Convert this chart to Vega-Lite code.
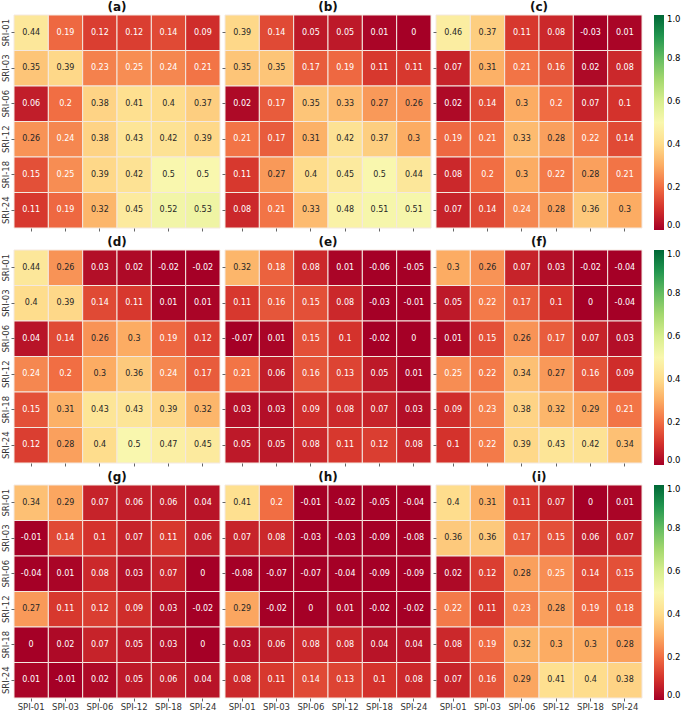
{
"$schema": "https://vega.github.io/schema/vega-lite/v6.json",
"background": "white",
"padding": {"left": 0, "top": 0, "right": 0, "bottom": 0},
"spacing": 3,
"config": {
  "view": {"stroke": null},
  "font": "DejaVu Sans",
  "axis": {"domain": false, "tickSize": 3, "tickColor": "#666", "labelFontSize": 8.5, "labelColor": "#333", "title": null, "labelPadding": 1},
  "title": {"fontSize": 12, "fontWeight": "bold", "offset": 1, "color": "#111"},
  "concat": {"spacing": 0}
},
"datasets": {
"cells": [
{"panel":"a","sri":"SRI-01","spi":"SPI-01","value":0.44},{"panel":"a","sri":"SRI-01","spi":"SPI-03","value":0.19},{"panel":"a","sri":"SRI-01","spi":"SPI-06","value":0.12},{"panel":"a","sri":"SRI-01","spi":"SPI-12","value":0.12},{"panel":"a","sri":"SRI-01","spi":"SPI-18","value":0.14},{"panel":"a","sri":"SRI-01","spi":"SPI-24","value":0.09},
{"panel":"a","sri":"SRI-03","spi":"SPI-01","value":0.35},{"panel":"a","sri":"SRI-03","spi":"SPI-03","value":0.39},{"panel":"a","sri":"SRI-03","spi":"SPI-06","value":0.23},{"panel":"a","sri":"SRI-03","spi":"SPI-12","value":0.25},{"panel":"a","sri":"SRI-03","spi":"SPI-18","value":0.24},{"panel":"a","sri":"SRI-03","spi":"SPI-24","value":0.21},
{"panel":"a","sri":"SRI-06","spi":"SPI-01","value":0.06},{"panel":"a","sri":"SRI-06","spi":"SPI-03","value":0.2},{"panel":"a","sri":"SRI-06","spi":"SPI-06","value":0.38},{"panel":"a","sri":"SRI-06","spi":"SPI-12","value":0.41},{"panel":"a","sri":"SRI-06","spi":"SPI-18","value":0.4},{"panel":"a","sri":"SRI-06","spi":"SPI-24","value":0.37},
{"panel":"a","sri":"SRI-12","spi":"SPI-01","value":0.26},{"panel":"a","sri":"SRI-12","spi":"SPI-03","value":0.24},{"panel":"a","sri":"SRI-12","spi":"SPI-06","value":0.38},{"panel":"a","sri":"SRI-12","spi":"SPI-12","value":0.43},{"panel":"a","sri":"SRI-12","spi":"SPI-18","value":0.42},{"panel":"a","sri":"SRI-12","spi":"SPI-24","value":0.39},
{"panel":"a","sri":"SRI-18","spi":"SPI-01","value":0.15},{"panel":"a","sri":"SRI-18","spi":"SPI-03","value":0.25},{"panel":"a","sri":"SRI-18","spi":"SPI-06","value":0.39},{"panel":"a","sri":"SRI-18","spi":"SPI-12","value":0.42},{"panel":"a","sri":"SRI-18","spi":"SPI-18","value":0.5},{"panel":"a","sri":"SRI-18","spi":"SPI-24","value":0.5},
{"panel":"a","sri":"SRI-24","spi":"SPI-01","value":0.11},{"panel":"a","sri":"SRI-24","spi":"SPI-03","value":0.19},{"panel":"a","sri":"SRI-24","spi":"SPI-06","value":0.32},{"panel":"a","sri":"SRI-24","spi":"SPI-12","value":0.45},{"panel":"a","sri":"SRI-24","spi":"SPI-18","value":0.52},{"panel":"a","sri":"SRI-24","spi":"SPI-24","value":0.53},

{"panel":"b","sri":"SRI-01","spi":"SPI-01","value":0.39},{"panel":"b","sri":"SRI-01","spi":"SPI-03","value":0.14},{"panel":"b","sri":"SRI-01","spi":"SPI-06","value":0.05},{"panel":"b","sri":"SRI-01","spi":"SPI-12","value":0.05},{"panel":"b","sri":"SRI-01","spi":"SPI-18","value":0.01},{"panel":"b","sri":"SRI-01","spi":"SPI-24","value":0},
{"panel":"b","sri":"SRI-03","spi":"SPI-01","value":0.35},{"panel":"b","sri":"SRI-03","spi":"SPI-03","value":0.35},{"panel":"b","sri":"SRI-03","spi":"SPI-06","value":0.17},{"panel":"b","sri":"SRI-03","spi":"SPI-12","value":0.19},{"panel":"b","sri":"SRI-03","spi":"SPI-18","value":0.11},{"panel":"b","sri":"SRI-03","spi":"SPI-24","value":0.11},
{"panel":"b","sri":"SRI-06","spi":"SPI-01","value":0.02},{"panel":"b","sri":"SRI-06","spi":"SPI-03","value":0.17},{"panel":"b","sri":"SRI-06","spi":"SPI-06","value":0.35},{"panel":"b","sri":"SRI-06","spi":"SPI-12","value":0.33},{"panel":"b","sri":"SRI-06","spi":"SPI-18","value":0.27},{"panel":"b","sri":"SRI-06","spi":"SPI-24","value":0.26},
{"panel":"b","sri":"SRI-12","spi":"SPI-01","value":0.21},{"panel":"b","sri":"SRI-12","spi":"SPI-03","value":0.17},{"panel":"b","sri":"SRI-12","spi":"SPI-06","value":0.31},{"panel":"b","sri":"SRI-12","spi":"SPI-12","value":0.42},{"panel":"b","sri":"SRI-12","spi":"SPI-18","value":0.37},{"panel":"b","sri":"SRI-12","spi":"SPI-24","value":0.3},
{"panel":"b","sri":"SRI-18","spi":"SPI-01","value":0.11},{"panel":"b","sri":"SRI-18","spi":"SPI-03","value":0.27},{"panel":"b","sri":"SRI-18","spi":"SPI-06","value":0.4},{"panel":"b","sri":"SRI-18","spi":"SPI-12","value":0.45},{"panel":"b","sri":"SRI-18","spi":"SPI-18","value":0.5},{"panel":"b","sri":"SRI-18","spi":"SPI-24","value":0.44},
{"panel":"b","sri":"SRI-24","spi":"SPI-01","value":0.08},{"panel":"b","sri":"SRI-24","spi":"SPI-03","value":0.21},{"panel":"b","sri":"SRI-24","spi":"SPI-06","value":0.33},{"panel":"b","sri":"SRI-24","spi":"SPI-12","value":0.48},{"panel":"b","sri":"SRI-24","spi":"SPI-18","value":0.51},{"panel":"b","sri":"SRI-24","spi":"SPI-24","value":0.51},

{"panel":"c","sri":"SRI-01","spi":"SPI-01","value":0.46},{"panel":"c","sri":"SRI-01","spi":"SPI-03","value":0.37},{"panel":"c","sri":"SRI-01","spi":"SPI-06","value":0.11},{"panel":"c","sri":"SRI-01","spi":"SPI-12","value":0.08},{"panel":"c","sri":"SRI-01","spi":"SPI-18","value":-0.03},{"panel":"c","sri":"SRI-01","spi":"SPI-24","value":0.01},
{"panel":"c","sri":"SRI-03","spi":"SPI-01","value":0.07},{"panel":"c","sri":"SRI-03","spi":"SPI-03","value":0.31},{"panel":"c","sri":"SRI-03","spi":"SPI-06","value":0.21},{"panel":"c","sri":"SRI-03","spi":"SPI-12","value":0.16},{"panel":"c","sri":"SRI-03","spi":"SPI-18","value":0.02},{"panel":"c","sri":"SRI-03","spi":"SPI-24","value":0.08},
{"panel":"c","sri":"SRI-06","spi":"SPI-01","value":0.02},{"panel":"c","sri":"SRI-06","spi":"SPI-03","value":0.14},{"panel":"c","sri":"SRI-06","spi":"SPI-06","value":0.3},{"panel":"c","sri":"SRI-06","spi":"SPI-12","value":0.2},{"panel":"c","sri":"SRI-06","spi":"SPI-18","value":0.07},{"panel":"c","sri":"SRI-06","spi":"SPI-24","value":0.1},
{"panel":"c","sri":"SRI-12","spi":"SPI-01","value":0.19},{"panel":"c","sri":"SRI-12","spi":"SPI-03","value":0.21},{"panel":"c","sri":"SRI-12","spi":"SPI-06","value":0.33},{"panel":"c","sri":"SRI-12","spi":"SPI-12","value":0.28},{"panel":"c","sri":"SRI-12","spi":"SPI-18","value":0.22},{"panel":"c","sri":"SRI-12","spi":"SPI-24","value":0.14},
{"panel":"c","sri":"SRI-18","spi":"SPI-01","value":0.08},{"panel":"c","sri":"SRI-18","spi":"SPI-03","value":0.2},{"panel":"c","sri":"SRI-18","spi":"SPI-06","value":0.3},{"panel":"c","sri":"SRI-18","spi":"SPI-12","value":0.22},{"panel":"c","sri":"SRI-18","spi":"SPI-18","value":0.28},{"panel":"c","sri":"SRI-18","spi":"SPI-24","value":0.21},
{"panel":"c","sri":"SRI-24","spi":"SPI-01","value":0.07},{"panel":"c","sri":"SRI-24","spi":"SPI-03","value":0.14},{"panel":"c","sri":"SRI-24","spi":"SPI-06","value":0.24},{"panel":"c","sri":"SRI-24","spi":"SPI-12","value":0.28},{"panel":"c","sri":"SRI-24","spi":"SPI-18","value":0.36},{"panel":"c","sri":"SRI-24","spi":"SPI-24","value":0.3},

{"panel":"d","sri":"SRI-01","spi":"SPI-01","value":0.44},{"panel":"d","sri":"SRI-01","spi":"SPI-03","value":0.26},{"panel":"d","sri":"SRI-01","spi":"SPI-06","value":0.03},{"panel":"d","sri":"SRI-01","spi":"SPI-12","value":0.02},{"panel":"d","sri":"SRI-01","spi":"SPI-18","value":-0.02},{"panel":"d","sri":"SRI-01","spi":"SPI-24","value":-0.02},
{"panel":"d","sri":"SRI-03","spi":"SPI-01","value":0.4},{"panel":"d","sri":"SRI-03","spi":"SPI-03","value":0.39},{"panel":"d","sri":"SRI-03","spi":"SPI-06","value":0.14},{"panel":"d","sri":"SRI-03","spi":"SPI-12","value":0.11},{"panel":"d","sri":"SRI-03","spi":"SPI-18","value":0.01},{"panel":"d","sri":"SRI-03","spi":"SPI-24","value":0.01},
{"panel":"d","sri":"SRI-06","spi":"SPI-01","value":0.04},{"panel":"d","sri":"SRI-06","spi":"SPI-03","value":0.14},{"panel":"d","sri":"SRI-06","spi":"SPI-06","value":0.26},{"panel":"d","sri":"SRI-06","spi":"SPI-12","value":0.3},{"panel":"d","sri":"SRI-06","spi":"SPI-18","value":0.19},{"panel":"d","sri":"SRI-06","spi":"SPI-24","value":0.12},
{"panel":"d","sri":"SRI-12","spi":"SPI-01","value":0.24},{"panel":"d","sri":"SRI-12","spi":"SPI-03","value":0.2},{"panel":"d","sri":"SRI-12","spi":"SPI-06","value":0.3},{"panel":"d","sri":"SRI-12","spi":"SPI-12","value":0.36},{"panel":"d","sri":"SRI-12","spi":"SPI-18","value":0.24},{"panel":"d","sri":"SRI-12","spi":"SPI-24","value":0.17},
{"panel":"d","sri":"SRI-18","spi":"SPI-01","value":0.15},{"panel":"d","sri":"SRI-18","spi":"SPI-03","value":0.31},{"panel":"d","sri":"SRI-18","spi":"SPI-06","value":0.43},{"panel":"d","sri":"SRI-18","spi":"SPI-12","value":0.43},{"panel":"d","sri":"SRI-18","spi":"SPI-18","value":0.39},{"panel":"d","sri":"SRI-18","spi":"SPI-24","value":0.32},
{"panel":"d","sri":"SRI-24","spi":"SPI-01","value":0.12},{"panel":"d","sri":"SRI-24","spi":"SPI-03","value":0.28},{"panel":"d","sri":"SRI-24","spi":"SPI-06","value":0.4},{"panel":"d","sri":"SRI-24","spi":"SPI-12","value":0.5},{"panel":"d","sri":"SRI-24","spi":"SPI-18","value":0.47},{"panel":"d","sri":"SRI-24","spi":"SPI-24","value":0.45},

{"panel":"e","sri":"SRI-01","spi":"SPI-01","value":0.32},{"panel":"e","sri":"SRI-01","spi":"SPI-03","value":0.18},{"panel":"e","sri":"SRI-01","spi":"SPI-06","value":0.08},{"panel":"e","sri":"SRI-01","spi":"SPI-12","value":0.01},{"panel":"e","sri":"SRI-01","spi":"SPI-18","value":-0.06},{"panel":"e","sri":"SRI-01","spi":"SPI-24","value":-0.05},
{"panel":"e","sri":"SRI-03","spi":"SPI-01","value":0.11},{"panel":"e","sri":"SRI-03","spi":"SPI-03","value":0.16},{"panel":"e","sri":"SRI-03","spi":"SPI-06","value":0.15},{"panel":"e","sri":"SRI-03","spi":"SPI-12","value":0.08},{"panel":"e","sri":"SRI-03","spi":"SPI-18","value":-0.03},{"panel":"e","sri":"SRI-03","spi":"SPI-24","value":-0.01},
{"panel":"e","sri":"SRI-06","spi":"SPI-01","value":-0.07},{"panel":"e","sri":"SRI-06","spi":"SPI-03","value":0.01},{"panel":"e","sri":"SRI-06","spi":"SPI-06","value":0.15},{"panel":"e","sri":"SRI-06","spi":"SPI-12","value":0.1},{"panel":"e","sri":"SRI-06","spi":"SPI-18","value":-0.02},{"panel":"e","sri":"SRI-06","spi":"SPI-24","value":0},
{"panel":"e","sri":"SRI-12","spi":"SPI-01","value":0.21},{"panel":"e","sri":"SRI-12","spi":"SPI-03","value":0.06},{"panel":"e","sri":"SRI-12","spi":"SPI-06","value":0.16},{"panel":"e","sri":"SRI-12","spi":"SPI-12","value":0.13},{"panel":"e","sri":"SRI-12","spi":"SPI-18","value":0.05},{"panel":"e","sri":"SRI-12","spi":"SPI-24","value":0.01},
{"panel":"e","sri":"SRI-18","spi":"SPI-01","value":0.03},{"panel":"e","sri":"SRI-18","spi":"SPI-03","value":0.03},{"panel":"e","sri":"SRI-18","spi":"SPI-06","value":0.09},{"panel":"e","sri":"SRI-18","spi":"SPI-12","value":0.08},{"panel":"e","sri":"SRI-18","spi":"SPI-18","value":0.07},{"panel":"e","sri":"SRI-18","spi":"SPI-24","value":0.03},
{"panel":"e","sri":"SRI-24","spi":"SPI-01","value":0.05},{"panel":"e","sri":"SRI-24","spi":"SPI-03","value":0.05},{"panel":"e","sri":"SRI-24","spi":"SPI-06","value":0.08},{"panel":"e","sri":"SRI-24","spi":"SPI-12","value":0.11},{"panel":"e","sri":"SRI-24","spi":"SPI-18","value":0.12},{"panel":"e","sri":"SRI-24","spi":"SPI-24","value":0.08},

{"panel":"f","sri":"SRI-01","spi":"SPI-01","value":0.3},{"panel":"f","sri":"SRI-01","spi":"SPI-03","value":0.26},{"panel":"f","sri":"SRI-01","spi":"SPI-06","value":0.07},{"panel":"f","sri":"SRI-01","spi":"SPI-12","value":0.03},{"panel":"f","sri":"SRI-01","spi":"SPI-18","value":-0.02},{"panel":"f","sri":"SRI-01","spi":"SPI-24","value":-0.04},
{"panel":"f","sri":"SRI-03","spi":"SPI-01","value":0.05},{"panel":"f","sri":"SRI-03","spi":"SPI-03","value":0.22},{"panel":"f","sri":"SRI-03","spi":"SPI-06","value":0.17},{"panel":"f","sri":"SRI-03","spi":"SPI-12","value":0.1},{"panel":"f","sri":"SRI-03","spi":"SPI-18","value":0},{"panel":"f","sri":"SRI-03","spi":"SPI-24","value":-0.04},
{"panel":"f","sri":"SRI-06","spi":"SPI-01","value":0.01},{"panel":"f","sri":"SRI-06","spi":"SPI-03","value":0.15},{"panel":"f","sri":"SRI-06","spi":"SPI-06","value":0.26},{"panel":"f","sri":"SRI-06","spi":"SPI-12","value":0.17},{"panel":"f","sri":"SRI-06","spi":"SPI-18","value":0.07},{"panel":"f","sri":"SRI-06","spi":"SPI-24","value":0.03},
{"panel":"f","sri":"SRI-12","spi":"SPI-01","value":0.25},{"panel":"f","sri":"SRI-12","spi":"SPI-03","value":0.22},{"panel":"f","sri":"SRI-12","spi":"SPI-06","value":0.34},{"panel":"f","sri":"SRI-12","spi":"SPI-12","value":0.27},{"panel":"f","sri":"SRI-12","spi":"SPI-18","value":0.16},{"panel":"f","sri":"SRI-12","spi":"SPI-24","value":0.09},
{"panel":"f","sri":"SRI-18","spi":"SPI-01","value":0.09},{"panel":"f","sri":"SRI-18","spi":"SPI-03","value":0.23},{"panel":"f","sri":"SRI-18","spi":"SPI-06","value":0.38},{"panel":"f","sri":"SRI-18","spi":"SPI-12","value":0.32},{"panel":"f","sri":"SRI-18","spi":"SPI-18","value":0.29},{"panel":"f","sri":"SRI-18","spi":"SPI-24","value":0.21},
{"panel":"f","sri":"SRI-24","spi":"SPI-01","value":0.1},{"panel":"f","sri":"SRI-24","spi":"SPI-03","value":0.22},{"panel":"f","sri":"SRI-24","spi":"SPI-06","value":0.39},{"panel":"f","sri":"SRI-24","spi":"SPI-12","value":0.43},{"panel":"f","sri":"SRI-24","spi":"SPI-18","value":0.42},{"panel":"f","sri":"SRI-24","spi":"SPI-24","value":0.34},

{"panel":"g","sri":"SRI-01","spi":"SPI-01","value":0.34},{"panel":"g","sri":"SRI-01","spi":"SPI-03","value":0.29},{"panel":"g","sri":"SRI-01","spi":"SPI-06","value":0.07},{"panel":"g","sri":"SRI-01","spi":"SPI-12","value":0.06},{"panel":"g","sri":"SRI-01","spi":"SPI-18","value":0.06},{"panel":"g","sri":"SRI-01","spi":"SPI-24","value":0.04},
{"panel":"g","sri":"SRI-03","spi":"SPI-01","value":-0.01},{"panel":"g","sri":"SRI-03","spi":"SPI-03","value":0.14},{"panel":"g","sri":"SRI-03","spi":"SPI-06","value":0.1},{"panel":"g","sri":"SRI-03","spi":"SPI-12","value":0.07},{"panel":"g","sri":"SRI-03","spi":"SPI-18","value":0.11},{"panel":"g","sri":"SRI-03","spi":"SPI-24","value":0.06},
{"panel":"g","sri":"SRI-06","spi":"SPI-01","value":-0.04},{"panel":"g","sri":"SRI-06","spi":"SPI-03","value":0.01},{"panel":"g","sri":"SRI-06","spi":"SPI-06","value":0.08},{"panel":"g","sri":"SRI-06","spi":"SPI-12","value":0.03},{"panel":"g","sri":"SRI-06","spi":"SPI-18","value":0.07},{"panel":"g","sri":"SRI-06","spi":"SPI-24","value":0},
{"panel":"g","sri":"SRI-12","spi":"SPI-01","value":0.27},{"panel":"g","sri":"SRI-12","spi":"SPI-03","value":0.11},{"panel":"g","sri":"SRI-12","spi":"SPI-06","value":0.12},{"panel":"g","sri":"SRI-12","spi":"SPI-12","value":0.09},{"panel":"g","sri":"SRI-12","spi":"SPI-18","value":0.03},{"panel":"g","sri":"SRI-12","spi":"SPI-24","value":-0.02},
{"panel":"g","sri":"SRI-18","spi":"SPI-01","value":0},{"panel":"g","sri":"SRI-18","spi":"SPI-03","value":0.02},{"panel":"g","sri":"SRI-18","spi":"SPI-06","value":0.07},{"panel":"g","sri":"SRI-18","spi":"SPI-12","value":0.05},{"panel":"g","sri":"SRI-18","spi":"SPI-18","value":0.03},{"panel":"g","sri":"SRI-18","spi":"SPI-24","value":0},
{"panel":"g","sri":"SRI-24","spi":"SPI-01","value":0.01},{"panel":"g","sri":"SRI-24","spi":"SPI-03","value":-0.01},{"panel":"g","sri":"SRI-24","spi":"SPI-06","value":0.02},{"panel":"g","sri":"SRI-24","spi":"SPI-12","value":0.05},{"panel":"g","sri":"SRI-24","spi":"SPI-18","value":0.06},{"panel":"g","sri":"SRI-24","spi":"SPI-24","value":0.04},

{"panel":"h","sri":"SRI-01","spi":"SPI-01","value":0.41},{"panel":"h","sri":"SRI-01","spi":"SPI-03","value":0.2},{"panel":"h","sri":"SRI-01","spi":"SPI-06","value":-0.01},{"panel":"h","sri":"SRI-01","spi":"SPI-12","value":-0.02},{"panel":"h","sri":"SRI-01","spi":"SPI-18","value":-0.05},{"panel":"h","sri":"SRI-01","spi":"SPI-24","value":-0.04},
{"panel":"h","sri":"SRI-03","spi":"SPI-01","value":0.07},{"panel":"h","sri":"SRI-03","spi":"SPI-03","value":0.08},{"panel":"h","sri":"SRI-03","spi":"SPI-06","value":-0.03},{"panel":"h","sri":"SRI-03","spi":"SPI-12","value":-0.03},{"panel":"h","sri":"SRI-03","spi":"SPI-18","value":-0.09},{"panel":"h","sri":"SRI-03","spi":"SPI-24","value":-0.08},
{"panel":"h","sri":"SRI-06","spi":"SPI-01","value":-0.08},{"panel":"h","sri":"SRI-06","spi":"SPI-03","value":-0.07},{"panel":"h","sri":"SRI-06","spi":"SPI-06","value":-0.07},{"panel":"h","sri":"SRI-06","spi":"SPI-12","value":-0.04},{"panel":"h","sri":"SRI-06","spi":"SPI-18","value":-0.09},{"panel":"h","sri":"SRI-06","spi":"SPI-24","value":-0.09},
{"panel":"h","sri":"SRI-12","spi":"SPI-01","value":0.29},{"panel":"h","sri":"SRI-12","spi":"SPI-03","value":-0.02},{"panel":"h","sri":"SRI-12","spi":"SPI-06","value":0},{"panel":"h","sri":"SRI-12","spi":"SPI-12","value":0.01},{"panel":"h","sri":"SRI-12","spi":"SPI-18","value":-0.02},{"panel":"h","sri":"SRI-12","spi":"SPI-24","value":-0.02},
{"panel":"h","sri":"SRI-18","spi":"SPI-01","value":0.03},{"panel":"h","sri":"SRI-18","spi":"SPI-03","value":0.06},{"panel":"h","sri":"SRI-18","spi":"SPI-06","value":0.08},{"panel":"h","sri":"SRI-18","spi":"SPI-12","value":0.08},{"panel":"h","sri":"SRI-18","spi":"SPI-18","value":0.04},{"panel":"h","sri":"SRI-18","spi":"SPI-24","value":0.04},
{"panel":"h","sri":"SRI-24","spi":"SPI-01","value":0.08},{"panel":"h","sri":"SRI-24","spi":"SPI-03","value":0.11},{"panel":"h","sri":"SRI-24","spi":"SPI-06","value":0.14},{"panel":"h","sri":"SRI-24","spi":"SPI-12","value":0.13},{"panel":"h","sri":"SRI-24","spi":"SPI-18","value":0.1},{"panel":"h","sri":"SRI-24","spi":"SPI-24","value":0.08},

{"panel":"i","sri":"SRI-01","spi":"SPI-01","value":0.4},{"panel":"i","sri":"SRI-01","spi":"SPI-03","value":0.31},{"panel":"i","sri":"SRI-01","spi":"SPI-06","value":0.11},{"panel":"i","sri":"SRI-01","spi":"SPI-12","value":0.07},{"panel":"i","sri":"SRI-01","spi":"SPI-18","value":0},{"panel":"i","sri":"SRI-01","spi":"SPI-24","value":0.01},
{"panel":"i","sri":"SRI-03","spi":"SPI-01","value":0.36},{"panel":"i","sri":"SRI-03","spi":"SPI-03","value":0.36},{"panel":"i","sri":"SRI-03","spi":"SPI-06","value":0.17},{"panel":"i","sri":"SRI-03","spi":"SPI-12","value":0.15},{"panel":"i","sri":"SRI-03","spi":"SPI-18","value":0.06},{"panel":"i","sri":"SRI-03","spi":"SPI-24","value":0.07},
{"panel":"i","sri":"SRI-06","spi":"SPI-01","value":0.02},{"panel":"i","sri":"SRI-06","spi":"SPI-03","value":0.12},{"panel":"i","sri":"SRI-06","spi":"SPI-06","value":0.28},{"panel":"i","sri":"SRI-06","spi":"SPI-12","value":0.25},{"panel":"i","sri":"SRI-06","spi":"SPI-18","value":0.14},{"panel":"i","sri":"SRI-06","spi":"SPI-24","value":0.15},
{"panel":"i","sri":"SRI-12","spi":"SPI-01","value":0.22},{"panel":"i","sri":"SRI-12","spi":"SPI-03","value":0.11},{"panel":"i","sri":"SRI-12","spi":"SPI-06","value":0.23},{"panel":"i","sri":"SRI-12","spi":"SPI-12","value":0.28},{"panel":"i","sri":"SRI-12","spi":"SPI-18","value":0.19},{"panel":"i","sri":"SRI-12","spi":"SPI-24","value":0.18},
{"panel":"i","sri":"SRI-18","spi":"SPI-01","value":0.08},{"panel":"i","sri":"SRI-18","spi":"SPI-03","value":0.19},{"panel":"i","sri":"SRI-18","spi":"SPI-06","value":0.32},{"panel":"i","sri":"SRI-18","spi":"SPI-12","value":0.3},{"panel":"i","sri":"SRI-18","spi":"SPI-18","value":0.3},{"panel":"i","sri":"SRI-18","spi":"SPI-24","value":0.28},
{"panel":"i","sri":"SRI-24","spi":"SPI-01","value":0.07},{"panel":"i","sri":"SRI-24","spi":"SPI-03","value":0.16},{"panel":"i","sri":"SRI-24","spi":"SPI-06","value":0.29},{"panel":"i","sri":"SRI-24","spi":"SPI-12","value":0.41},{"panel":"i","sri":"SRI-24","spi":"SPI-18","value":0.4},{"panel":"i","sri":"SRI-24","spi":"SPI-24","value":0.38}
]
},
"data": {"name": "cells"},
"vconcat": [
 {"hconcat": [
  {"title": "(a)", "width": 206, "height": 213, "transform": [{"filter": "datum.panel == 'a'"}],
   "encoding": {"x": {"field": "spi", "type": "ordinal", "axis": {"labels": false}}, "y": {"field": "sri", "type": "ordinal", "axis": {"labelAngle": -90, "labelAlign": "center", "labelBaseline": "bottom"}}},
   "layer": [
    {"mark": {"type": "rect", "stroke": "#f4e8e0", "strokeWidth": 1}, "encoding": {"color": {"field": "value", "type": "quantitative", "scale": {"scheme": "redyellowgreen", "domain": [0, 1], "clamp": true}, "legend": null}}},
    {"mark": {"type": "text", "fontSize": 8}, "encoding": {"text": {"field": "value", "type": "nominal"}, "color": {"condition": {"test": "datum.value < 0.26", "value": "white"}, "value": "#262626"}}}
   ]},
  {"title": "(b)", "width": 206, "height": 213, "transform": [{"filter": "datum.panel == 'b'"}],
   "encoding": {"x": {"field": "spi", "type": "ordinal", "axis": {"labels": false}}, "y": {"field": "sri", "type": "ordinal", "axis": {"labels": false}}},
   "layer": [
    {"mark": {"type": "rect", "stroke": "#f4e8e0", "strokeWidth": 1}, "encoding": {"color": {"field": "value", "type": "quantitative", "scale": {"scheme": "redyellowgreen", "domain": [0, 1], "clamp": true}, "legend": null}}},
    {"mark": {"type": "text", "fontSize": 8}, "encoding": {"text": {"field": "value", "type": "nominal"}, "color": {"condition": {"test": "datum.value < 0.26", "value": "white"}, "value": "#262626"}}}
   ]},
  {"title": "(c)", "width": 206, "height": 213, "transform": [{"filter": "datum.panel == 'c'"}],
   "encoding": {"x": {"field": "spi", "type": "ordinal", "axis": {"labels": false}}, "y": {"field": "sri", "type": "ordinal", "axis": {"labels": false}}},
   "layer": [
    {"mark": {"type": "rect", "stroke": "#f4e8e0", "strokeWidth": 1}, "encoding": {"color": {"field": "value", "type": "quantitative", "scale": {"scheme": "redyellowgreen", "domain": [0, 1], "clamp": true}, "legend": {"title": null, "gradientLength": 215, "gradientThickness": 10, "values": [0, 0.2, 0.4, 0.6, 0.8, 1], "format": ".1f", "labelFontSize": 8.5, "offset": 12, "labelOffset": 3}}}},
    {"mark": {"type": "text", "fontSize": 8}, "encoding": {"text": {"field": "value", "type": "nominal"}, "color": {"condition": {"test": "datum.value < 0.26", "value": "white"}, "value": "#262626"}}}
   ]}
 ], "resolve": {"scale": {"color": "independent"}}},
 {"hconcat": [
  {"title": "(d)", "width": 206, "height": 213, "transform": [{"filter": "datum.panel == 'd'"}],
   "encoding": {"x": {"field": "spi", "type": "ordinal", "axis": {"labels": false}}, "y": {"field": "sri", "type": "ordinal", "axis": {"labelAngle": -90, "labelAlign": "center", "labelBaseline": "bottom"}}},
   "layer": [
    {"mark": {"type": "rect", "stroke": "#f4e8e0", "strokeWidth": 1}, "encoding": {"color": {"field": "value", "type": "quantitative", "scale": {"scheme": "redyellowgreen", "domain": [0, 1], "clamp": true}, "legend": null}}},
    {"mark": {"type": "text", "fontSize": 8}, "encoding": {"text": {"field": "value", "type": "nominal"}, "color": {"condition": {"test": "datum.value < 0.26", "value": "white"}, "value": "#262626"}}}
   ]},
  {"title": "(e)", "width": 206, "height": 213, "transform": [{"filter": "datum.panel == 'e'"}],
   "encoding": {"x": {"field": "spi", "type": "ordinal", "axis": {"labels": false}}, "y": {"field": "sri", "type": "ordinal", "axis": {"labels": false}}},
   "layer": [
    {"mark": {"type": "rect", "stroke": "#f4e8e0", "strokeWidth": 1}, "encoding": {"color": {"field": "value", "type": "quantitative", "scale": {"scheme": "redyellowgreen", "domain": [0, 1], "clamp": true}, "legend": null}}},
    {"mark": {"type": "text", "fontSize": 8}, "encoding": {"text": {"field": "value", "type": "nominal"}, "color": {"condition": {"test": "datum.value < 0.26", "value": "white"}, "value": "#262626"}}}
   ]},
  {"title": "(f)", "width": 206, "height": 213, "transform": [{"filter": "datum.panel == 'f'"}],
   "encoding": {"x": {"field": "spi", "type": "ordinal", "axis": {"labels": false}}, "y": {"field": "sri", "type": "ordinal", "axis": {"labels": false}}},
   "layer": [
    {"mark": {"type": "rect", "stroke": "#f4e8e0", "strokeWidth": 1}, "encoding": {"color": {"field": "value", "type": "quantitative", "scale": {"scheme": "redyellowgreen", "domain": [0, 1], "clamp": true}, "legend": {"title": null, "gradientLength": 215, "gradientThickness": 10, "values": [0, 0.2, 0.4, 0.6, 0.8, 1], "format": ".1f", "labelFontSize": 8.5, "offset": 12, "labelOffset": 3}}}},
    {"mark": {"type": "text", "fontSize": 8}, "encoding": {"text": {"field": "value", "type": "nominal"}, "color": {"condition": {"test": "datum.value < 0.26", "value": "white"}, "value": "#262626"}}}
   ]}
 ], "resolve": {"scale": {"color": "independent"}}},
 {"hconcat": [
  {"title": "(g)", "width": 206, "height": 213, "transform": [{"filter": "datum.panel == 'g'"}],
   "encoding": {"x": {"field": "spi", "type": "ordinal", "axis": {"labelAngle": 0}}, "y": {"field": "sri", "type": "ordinal", "axis": {"labelAngle": -90, "labelAlign": "center", "labelBaseline": "bottom"}}},
   "layer": [
    {"mark": {"type": "rect", "stroke": "#f4e8e0", "strokeWidth": 1}, "encoding": {"color": {"field": "value", "type": "quantitative", "scale": {"scheme": "redyellowgreen", "domain": [0, 1], "clamp": true}, "legend": null}}},
    {"mark": {"type": "text", "fontSize": 8}, "encoding": {"text": {"field": "value", "type": "nominal"}, "color": {"condition": {"test": "datum.value < 0.26", "value": "white"}, "value": "#262626"}}}
   ]},
  {"title": "(h)", "width": 206, "height": 213, "transform": [{"filter": "datum.panel == 'h'"}],
   "encoding": {"x": {"field": "spi", "type": "ordinal", "axis": {"labelAngle": 0}}, "y": {"field": "sri", "type": "ordinal", "axis": {"labels": false}}},
   "layer": [
    {"mark": {"type": "rect", "stroke": "#f4e8e0", "strokeWidth": 1}, "encoding": {"color": {"field": "value", "type": "quantitative", "scale": {"scheme": "redyellowgreen", "domain": [0, 1], "clamp": true}, "legend": null}}},
    {"mark": {"type": "text", "fontSize": 8}, "encoding": {"text": {"field": "value", "type": "nominal"}, "color": {"condition": {"test": "datum.value < 0.26", "value": "white"}, "value": "#262626"}}}
   ]},
  {"title": "(i)", "width": 206, "height": 213, "transform": [{"filter": "datum.panel == 'i'"}],
   "encoding": {"x": {"field": "spi", "type": "ordinal", "axis": {"labelAngle": 0}}, "y": {"field": "sri", "type": "ordinal", "axis": {"labels": false}}},
   "layer": [
    {"mark": {"type": "rect", "stroke": "#f4e8e0", "strokeWidth": 1}, "encoding": {"color": {"field": "value", "type": "quantitative", "scale": {"scheme": "redyellowgreen", "domain": [0, 1], "clamp": true}, "legend": {"title": null, "gradientLength": 215, "gradientThickness": 10, "values": [0, 0.2, 0.4, 0.6, 0.8, 1], "format": ".1f", "labelFontSize": 8.5, "offset": 12, "labelOffset": 3}}}},
    {"mark": {"type": "text", "fontSize": 8}, "encoding": {"text": {"field": "value", "type": "nominal"}, "color": {"condition": {"test": "datum.value < 0.26", "value": "white"}, "value": "#262626"}}}
   ]}
 ], "resolve": {"scale": {"color": "independent"}}}
],
"resolve": {"scale": {"color": "independent"}}
}
